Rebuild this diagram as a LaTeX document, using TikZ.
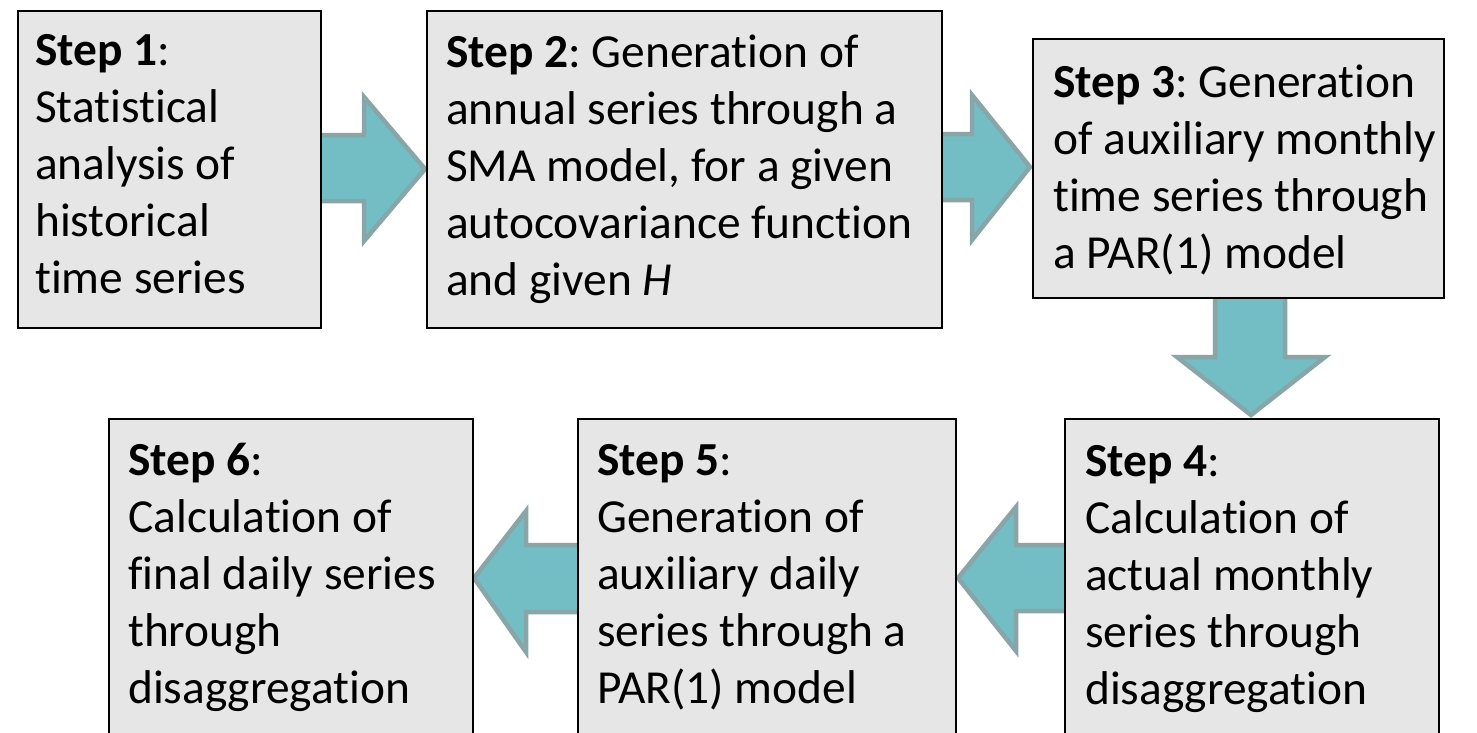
\documentclass[tikz,border=0pt]{standalone}
\usepackage{fontspec}
\setmainfont{Carlito}[Ligatures={NoCommon,TeX}]
\frenchspacing
\definecolor{boxfill}{HTML}{E6E6E6}
\definecolor{arrfill}{HTML}{72BEC4}
\definecolor{arrline}{HTML}{88A5A8}
\begin{document}
\begin{tikzpicture}[x=1pt,y=-1pt,
  stepbox/.style={draw=black,line width=1.8pt,fill=boxfill,rectangle,inner sep=0pt,anchor=north west},
  steptext/.style={anchor=base west,inner sep=0pt,align=left,font=\fontsize{47.4}{57.2}\selectfont},
  blockarrow/.style={fill=arrfill,draw=arrline,line width=4.5pt,line join=miter}]
\useasboundingbox (0,0) rectangle (1477,732);
\clip (0,0) rectangle (1477,732);
\fill[white] (0,0) rectangle (1477,732);
% block arrows (behind boxes)
\draw[blockarrow] (300,135) -- (364,135) -- (364,97) -- (425,169) -- (364,241) -- (364,201) -- (300,201) -- cycle;
\draw[blockarrow] (925,134) -- (972,134) -- (972,95) -- (1030,167) -- (972,240) -- (972,200) -- (925,200) -- cycle;
\draw[blockarrow] (1215,280) -- (1215,357) -- (1177,357) -- (1251,415) -- (1325,357) -- (1285,357) -- (1285,280) -- cycle;
\draw[blockarrow] (1080,545) -- (1016,545) -- (1016,507) -- (958,578) -- (1016,651) -- (1016,611) -- (1080,611) -- cycle;
\draw[blockarrow] (595,545) -- (526,545) -- (526,511) -- (474,578) -- (526,652) -- (526,612) -- (595,612) -- cycle;
% boxes
\node[stepbox,minimum width=303pt,minimum height=317pt] (b1) at (17,10) {};
\node[stepbox,minimum width=515pt,minimum height=317pt] (b2) at (426,10) {};
\node[stepbox,minimum width=411pt,minimum height=259pt] (b3) at (1032,38) {};
\node[stepbox,minimum width=374pt,minimum height=360pt] (b4) at (1064,418) {};
\node[stepbox,minimum width=378pt,minimum height=360pt] (b5) at (577,418) {};
\node[stepbox,minimum width=364pt,minimum height=360pt] (b6) at (108,418) {};
% texts (anchored at the baseline of the last line)
\node[steptext] (t1) at (35,293.8) {\textbf{Step 1}:\\Statistical\\analysis of\\historical\\time series};
\node[steptext] (t2) at (446,295.8) {\textbf{Step 2}: Generation of\\annual series through a\\SMA model, for a given\\autocovariance function\\and given \textit{H}};
\node[steptext] (t3) at (1053,268.6) {\textbf{Step 3}: Generation\\of auxiliary monthly\\time series through\\a PAR(1) model};
\node[steptext] (t4) at (1085,704.8) {\textbf{Step 4}:\\Calculation of\\actual monthly\\series through\\disaggregation};
\node[steptext] (t5) at (597,703.8) {\textbf{Step 5}:\\Generation of\\auxiliary daily\\series through a\\PAR(1) model};
\node[steptext] (t6) at (128,703.8) {\textbf{Step 6}:\\Calculation of\\final daily series\\through\\disaggregation};
\end{tikzpicture}
\end{document}
